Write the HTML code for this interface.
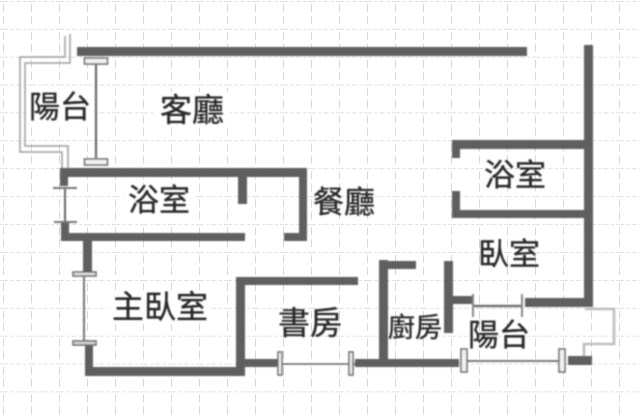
<!DOCTYPE html>
<html><head><meta charset="utf-8"><style>
html,body{margin:0;padding:0;background:#fff;width:640px;height:417px;overflow:hidden}
svg{display:block}
text{font-family:"Liberation Sans","Noto Sans CJK TC",sans-serif;fill:#262626;stroke:#262626;stroke-width:.35;text-anchor:start}
</style></head><body>
<svg width="640" height="417" viewBox="0 0 640 417" xmlns="http://www.w3.org/2000/svg">
<defs>
<pattern id="g" x="3" y="1" width="28" height="27.9" patternUnits="userSpaceOnUse">
<path d="M0 0H28" stroke="#cfcfcf" stroke-width="1.3" stroke-dasharray="5 2.5 3 2"/>
<path d="M0 3V11M0 15V23" stroke="#cbcbcb" stroke-width="1.5"/>
</pattern>
<filter id="b" x="-5%" y="-5%" width="110%" height="110%"><feGaussianBlur stdDeviation="0.7"/></filter>
</defs>
<rect width="640" height="417" fill="#fff"/>
<rect width="640" height="417" fill="url(#g)"/>
<g fill="#fff">
<rect x="26" y="86" width="70" height="40"/>
<rect x="155" y="92" width="74" height="34"/>
<rect x="124" y="184" width="70" height="36"/>
<rect x="108" y="290" width="104" height="34"/>
</g>
<g filter="url(#b)">
<g fill="none" stroke="#9c9c9c" stroke-width="1.5">
<path d="M65 36V57H20V152H62V168"/>
<path d="M70 34V63H25V146H68V168"/>
</g>
<path d="M585 309H614V344H584V356" fill="none" stroke="#bdbdbd" stroke-width="2.6"/>
<g fill="#5f5f5f">
<rect x="77" y="47" width="450" height="9"/>
<rect x="584" y="45" width="9" height="262"/>
<rect x="452" y="140" width="133" height="9"/>
<rect x="452" y="140" width="8" height="18"/>
<rect x="452" y="191" width="8" height="27"/>
<rect x="452" y="210" width="141" height="8"/>
<rect x="525" y="298" width="68" height="9"/>
<rect x="444" y="261" width="9" height="72"/>
<rect x="444" y="296" width="28" height="8"/>
<rect x="379" y="260" width="9" height="102"/>
<rect x="379" y="261" width="37" height="8"/>
<rect x="355" y="359" width="104" height="8"/>
<rect x="568" y="356" width="24" height="9"/>
<rect x="236" y="277" width="122" height="8"/>
<rect x="236" y="277" width="9" height="99"/>
<rect x="85" y="367" width="160" height="9"/>
<rect x="245" y="359" width="33" height="8"/>
<rect x="85" y="345" width="8" height="31"/>
<rect x="83" y="240" width="9" height="32"/>
<rect x="61" y="233" width="184" height="8"/>
<rect x="61" y="222" width="8" height="19"/>
<rect x="284" y="233" width="23" height="8"/>
<rect x="299" y="169" width="8" height="72"/>
<rect x="60" y="168" width="247" height="9"/>
<rect x="60" y="168" width="8" height="18"/>
<rect x="238" y="168" width="9" height="36"/>
</g>
<g stroke="#666" fill="none">
<path d="M96 64V158" stroke-width="2.2"/>
<path d="M65 188V222" stroke-width="2"/>
<path d="M84 274V343" stroke-width="1.8"/>
<path d="M280 364H355" stroke-width="1.6"/>
<path d="M465 361H562" stroke-width="1.8"/>
<path d="M473 306H522" stroke-width="2.2"/>
</g>
<g fill="#f2f2f2" stroke="#6e6e6e" stroke-width="1.6">
<rect x="84.500" y="58" width="23" height="6"/>
<rect x="84.500" y="159" width="23" height="6"/>
<rect x="73" y="272" width="23" height="4" fill="#e4e4e4"/>
<rect x="73" y="341" width="23" height="4" fill="#d8d8d8"/>
<rect x="278" y="352" width="4" height="23"/>
<rect x="349" y="352" width="4" height="23"/>
<rect x="461" y="349" width="6" height="23"/>
<rect x="559" y="349" width="6" height="23"/>
</g>
<g stroke="#888" stroke-width="2">
<path d="M473 294V317M522 294V317"/>
<path d="M53 188H77M54 222H77" stroke="#777"/>
</g>
<text x="29" y="118" font-size="31">陽台</text>
<text x="160" y="121" font-size="32">客廳</text>
<text x="128" y="211" font-size="31">浴室</text>
<text x="313" y="213" font-size="31">餐廳</text>
<text x="484" y="186" font-size="31">浴室</text>
<text x="478" y="265" font-size="31">臥室</text>
<text x="112" y="318" font-size="32">主臥室</text>
<text x="278" y="334" font-size="32">書房</text>
<text x="388" y="337" font-size="27">廚房</text>
<text x="468" y="346" font-size="31">陽台</text>
</g>
</svg>
</body></html>
